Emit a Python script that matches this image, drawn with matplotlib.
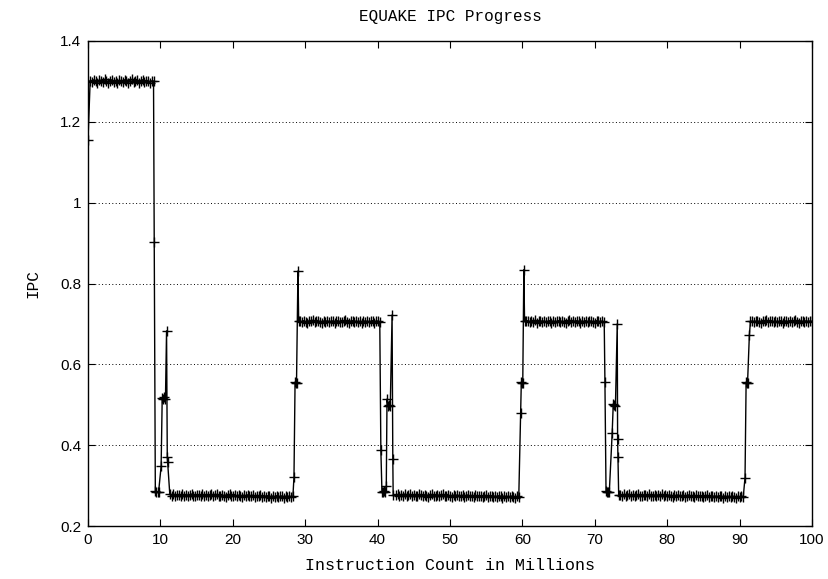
import numpy as np
import matplotlib
matplotlib.use("Agg")
import matplotlib.pyplot as plt

# ---------------- data ----------------
STEP = 0.25  # sampling interval of the steady phases (millions of instructions)

start_x = [0.0]
start_y = [1.155]

p1_start = 0.3
p1_y = [1.302, 1.298, 1.304, 1.300, 1.297, 1.303, 1.301, 1.299, 1.305, 1.300,
        1.296, 1.302, 1.304, 1.299, 1.301, 1.297, 1.303, 1.300, 1.298, 1.304,
        1.301, 1.297, 1.302, 1.305, 1.299, 1.300, 1.303, 1.296, 1.301, 1.304,
        1.298, 1.302, 1.300, 1.297, 1.301]

t1_x = [9.05, 9.15, 9.3, 9.45, 9.6, 9.75, 10.1, 10.25, 10.4, 10.55, 10.7, 10.85, 10.95, 11.0]
t1_y = [1.301, 0.902, 0.286, 0.283, 0.285, 0.284, 0.348, 0.517, 0.514, 0.518, 0.515, 0.683, 0.371, 0.358]

p2_start = 11.3
p2_y = [0.278, 0.275, 0.279, 0.274, 0.277, 0.276, 0.273, 0.278, 0.275, 0.277,
        0.274, 0.276, 0.279, 0.275, 0.273, 0.277, 0.276, 0.274, 0.278, 0.275,
        0.277, 0.273, 0.276, 0.279, 0.274, 0.276, 0.278, 0.275, 0.273, 0.277,
        0.275, 0.272, 0.276, 0.278, 0.274, 0.275, 0.277, 0.273, 0.276, 0.274,
        0.272, 0.276, 0.274, 0.277, 0.273, 0.275, 0.276, 0.272, 0.275, 0.273,
        0.276, 0.271, 0.274, 0.272, 0.275, 0.273, 0.270, 0.274, 0.272, 0.275,
        0.271, 0.273, 0.274, 0.270, 0.273, 0.272, 0.274, 0.271, 0.273]

t2_x = [28.45, 28.6, 28.7, 28.8, 29.0, 29.1]
t2_y = [0.321, 0.556, 0.553, 0.555, 0.831, 0.706]

p3_start = 29.3
p3_y = [0.707, 0.704, 0.708, 0.705, 0.703, 0.707, 0.706, 0.709, 0.704, 0.706,
        0.708, 0.705, 0.703, 0.707, 0.705, 0.708, 0.704, 0.706, 0.707, 0.703,
        0.706, 0.708, 0.705, 0.704, 0.707, 0.709, 0.705, 0.703, 0.706, 0.708,
        0.704, 0.707, 0.705, 0.706, 0.703, 0.708, 0.705, 0.707, 0.704, 0.706,
        0.708, 0.703, 0.706, 0.707, 0.705]

t3_x = [40.45, 40.6, 40.75, 40.9, 41.05, 41.2, 41.3, 41.45, 41.6, 41.75, 42.0, 42.1, 42.15]
t3_y = [0.388, 0.285, 0.283, 0.286, 0.284, 0.300, 0.514, 0.497, 0.499, 0.496, 0.722, 0.366, 0.277]

p4_start = 42.5
p4_y = [0.276, 0.278, 0.274, 0.277, 0.275, 0.279, 0.273, 0.276, 0.278, 0.274,
        0.277, 0.275, 0.273, 0.278, 0.276, 0.274, 0.277, 0.275, 0.272, 0.276,
        0.278, 0.273, 0.275, 0.277, 0.274, 0.276, 0.278, 0.273, 0.275, 0.277,
        0.274, 0.272, 0.276, 0.274, 0.277, 0.273, 0.275, 0.276, 0.272, 0.274,
        0.277, 0.273, 0.275, 0.272, 0.276, 0.274, 0.273, 0.275, 0.271, 0.274,
        0.276, 0.272, 0.273, 0.275, 0.271, 0.274, 0.272, 0.275, 0.273, 0.270,
        0.274, 0.272, 0.273, 0.271, 0.274, 0.272, 0.270, 0.273, 0.272]

t4_x = [59.75, 59.85, 59.95, 60.05, 60.2, 60.3]
t4_y = [0.480, 0.556, 0.553, 0.555, 0.834, 0.706]

p5_start = 60.5
p5_y = [0.706, 0.708, 0.704, 0.707, 0.705, 0.709, 0.703, 0.706, 0.708, 0.705,
        0.707, 0.704, 0.706, 0.708, 0.703, 0.707, 0.705, 0.706, 0.708, 0.704,
        0.707, 0.705, 0.703, 0.706, 0.709, 0.704, 0.707, 0.705, 0.708, 0.706,
        0.703, 0.707, 0.705, 0.708, 0.704, 0.706, 0.707, 0.705, 0.703, 0.708,
        0.706, 0.704, 0.707]

t5_x = [71.3, 71.4, 71.55, 71.7, 71.85, 72.0, 72.4, 72.55, 72.7, 72.85, 73.1, 73.15, 73.2, 73.3]
t5_y = [0.705, 0.556, 0.286, 0.284, 0.285, 0.283, 0.430, 0.502, 0.499, 0.497, 0.700, 0.415, 0.371, 0.276]

p6_start = 73.5
p6_y = [0.277, 0.274, 0.278, 0.275, 0.276, 0.279, 0.274, 0.277, 0.273, 0.276,
        0.278, 0.275, 0.274, 0.277, 0.276, 0.273, 0.278, 0.275, 0.274, 0.276,
        0.273, 0.277, 0.275, 0.278, 0.274, 0.276, 0.273, 0.277, 0.275, 0.272,
        0.276, 0.274, 0.277, 0.273, 0.275, 0.276, 0.272, 0.274, 0.277, 0.273,
        0.275, 0.272, 0.276, 0.274, 0.273, 0.275, 0.271, 0.274, 0.276, 0.272,
        0.273, 0.275, 0.271, 0.274, 0.272, 0.275, 0.273, 0.270, 0.274, 0.272,
        0.273, 0.271, 0.274, 0.272, 0.270, 0.273, 0.272, 0.274, 0.271]

t6_x = [90.75, 90.9, 91.0, 91.1, 91.35, 91.5]
t6_y = [0.320, 0.556, 0.553, 0.555, 0.673, 0.706]

p7_start = 91.7
p7_y = [0.707, 0.704, 0.706, 0.708, 0.705, 0.703, 0.707, 0.706, 0.709, 0.704,
        0.706, 0.708, 0.705, 0.707, 0.704, 0.706, 0.708, 0.703, 0.706, 0.707,
        0.705, 0.708, 0.704, 0.706, 0.709, 0.705, 0.703, 0.707, 0.706, 0.704,
        0.708, 0.705, 0.707, 0.706]

x_ticks = [0, 10, 20, 30, 40, 50, 60, 70, 80, 90, 100]
y_ticks = [0.2, 0.4, 0.6, 0.8, 1.0, 1.2, 1.4]
y_tick_labels = ["0.2", "0.4", "0.6", "0.8", "1", "1.2", "1.4"]

title = "EQUAKE IPC Progress"
xlabel = "Instruction Count in Millions"
ylabel = "IPC"


def plateau(x0, ys):
    return list(x0 + STEP * np.arange(len(ys))), list(ys)


pieces = [
    (start_x, start_y),
    plateau(p1_start, p1_y), (t1_x, t1_y),
    plateau(p2_start, p2_y), (t2_x, t2_y),
    plateau(p3_start, p3_y), (t3_x, t3_y),
    plateau(p4_start, p4_y), (t4_x, t4_y),
    plateau(p5_start, p5_y), (t5_x, t5_y),
    plateau(p6_start, p6_y), (t6_x, t6_y),
    plateau(p7_start, p7_y),
]
xs = np.concatenate([np.asarray(p[0], float) for p in pieces])
ys = np.concatenate([np.asarray(p[1], float) for p in pieces])

# ---------------- figure ----------------
W, H = 829, 579
fig = plt.figure(figsize=(W / 100, H / 100), dpi=100)
ax = fig.add_axes([88 / W, 1 - 526 / H, (812 - 88) / W, (526 - 41) / H])

mono = ["Liberation Mono", "DejaVu Sans Mono"]
sans = ["Liberation Sans", "DejaVu Sans"]

for yv in y_ticks[1:-1]:
    ax.axhline(yv, color="black", lw=0.7, ls=(0, (1, 2.5)), zorder=1)

ax.plot(xs, ys, "-+", color="black", lw=1.0, markersize=7, mew=1.0,
        zorder=3, clip_on=True)

ax.set_xlim(0, 100)
ax.set_ylim(0.2, 1.4)
ax.set_xticks(x_ticks)
ax.set_yticks(y_ticks)
ax.set_yticklabels(y_tick_labels)
ax.tick_params(direction="in", length=5, width=0.8, top=True, right=True,
               labelsize=11, pad=5)
for lab in ax.get_xticklabels() + ax.get_yticklabels():
    lab.set_family(sans)
for s in ax.spines.values():
    s.set_linewidth(1.0)

fig.text((88 + 812) / 2 / W, 1 - 16 / H, title, ha="center", va="center",
         family=mono, fontsize=11.5)
fig.text((88 + 812) / 2 / W, 1 - 566 / H, xlabel, ha="center", va="center",
         family=mono, fontsize=12)
fig.text(33 / W, 1 - 284 / H, ylabel, ha="center", va="center",
         rotation=90, family=mono, fontsize=11.5)

fig.savefig("out.png", dpi=100)
